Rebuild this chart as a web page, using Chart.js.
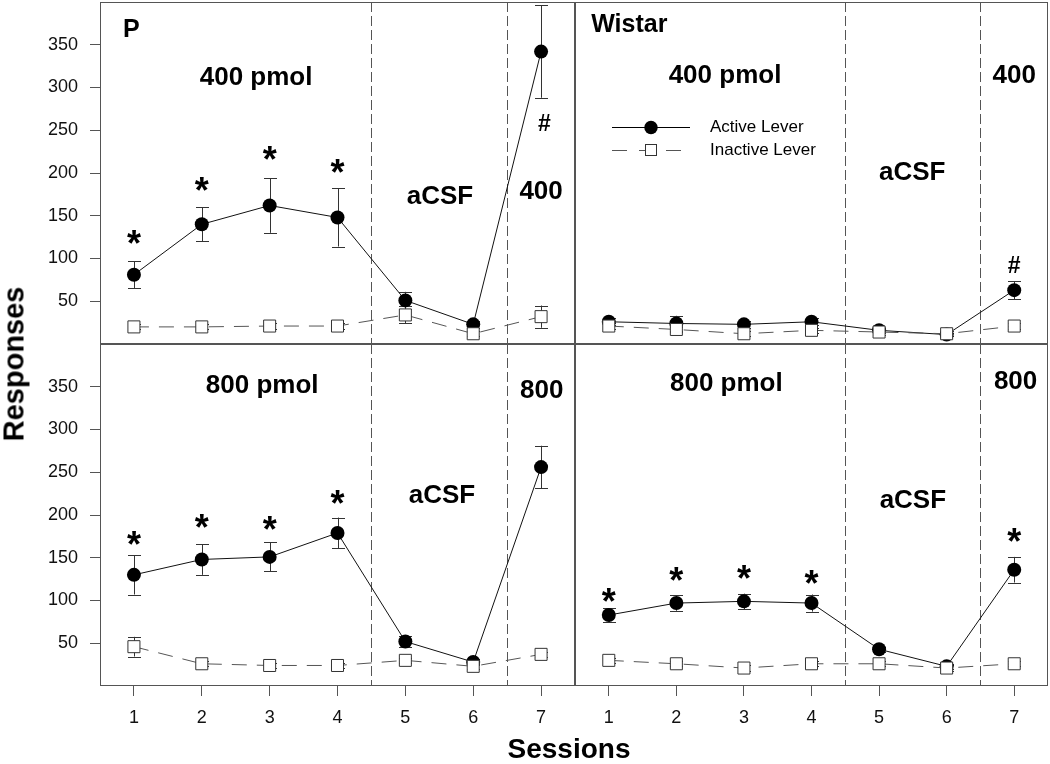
<!DOCTYPE html>
<html>
<head>
<meta charset="utf-8">
<script src="https://cdn.jsdelivr.net/npm/chart.js@4.4.1/dist/chart.umd.min.js"></script>
<style>
    body { margin: 0; background: #fff; }
    #contenitore { position: relative; width: 1050px; height: 764px; overflow: hidden;
        font-family: "Liberation Sans", Arial, sans-serif; }
    #contenitore canvas { position: absolute; }
    #c_tl { left: 0; top: 0; }
    #c_tr { left: 574px; top: 0; }
    #c_bl { left: 0; top: 343px; }
    #c_br { left: 574px; top: 343px; }
    .titolo { position: absolute; font-weight: bold; font-size: 29px; color: #000; white-space: nowrap; }
    #titolo_y { left: 14px; top: 364px; transform: translate(-50%, -50%) rotate(-90deg); }
    #titolo_x { left: 569px; top: 749px; transform: translate(-50%, -50%); font-size: 28px; }
</style>
</head>
<body>
<div id="contenitore">
    <canvas id="c_tl" width="576" height="345"></canvas>
    <canvas id="c_tr" width="476" height="345"></canvas>
    <canvas id="c_bl" width="576" height="421"></canvas>
    <canvas id="c_br" width="476" height="421"></canvas>
    <div class="titolo" id="titolo_y">Responses</div>
    <div class="titolo" id="titolo_x">Sessions</div>
</div>
<script>
// sessioni e tick
var sessioni = [1, 2, 3, 4, 5, 6, 7];
var tick_y = [50, 100, 150, 200, 250, 300, 350];
var separatori = [4.5, 6.5];

// ratti P, 400 pmol
var p400_attiva = [81, 140, 162, 148, 51, 23, 342];
var p400_attiva_err = [15.5, 20, 32, 34, 10, 4, 54];
var p400_inattiva = [20, 20, 21, 21, 34, 12, 32];
var p400_inattiva_err = [3, 3, 3, 3, 10, 3, 13];

// ratti Wistar, 400 pmol
var w400_attiva = [26, 24, 23, 26, 16, 11, 63];
var w400_attiva_err = [4, 9, 4, 4, 3, 2, 10.5];
var w400_inattiva = [21, 17, 12, 16, 14, 12, 21];
var w400_inattiva_err = [3, 3, 3, 3, 3, 3, 3];

// ratti P, 800 pmol
var p800_attiva = [130, 148, 151, 179, 52, 28, 256];
var p800_attiva_err = [23, 18, 17, 18, 6, 4, 25];
var p800_inattiva = [46, 26, 24, 24, 30, 23, 37];
var p800_inattiva_err = [11.5, 3, 3, 3, 3, 3, 3];

// ratti Wistar, 800 pmol
var w800_attiva = [83, 97, 99, 97, 43, 23, 136];
var w800_attiva_err = [8, 9, 9, 10, 3, 3, 15];
var w800_inattiva = [30, 26, 21, 26, 26, 21, 26];
var w800_inattiva_err = [3, 3, 3, 3, 3, 3, 3];

var etichette_legenda = ['Active Lever', 'Inactive Lever'];

var font_famiglia = '"Liberation Sans", Arial, sans-serif';
var colore_assi = '#555';

function punti(valori) {
    return sessioni.map(function (s, i) { return { x: s, y: valori[i] }; });
}

// testo grassetto centrato sul valore (centro visivo delle maiuscole)
function scrivi(ctx, testo, px, py, dim, allinea, quota) {
    ctx.font = 'bold ' + dim + 'px ' + font_famiglia;
    ctx.textAlign = allinea || 'center';
    ctx.textBaseline = 'alphabetic';
    ctx.fillText(testo, px, py + dim * (quota || 0.358));
}

var plugin_pannello = {
    id: 'pannello',
    beforeDatasetsDraw: function (chart) {
        var ctx = chart.ctx, area = chart.chartArea;
        var sx = chart.scales.x, sy = chart.scales.y;
        ctx.save();
        // linee tratteggiate tra le fasi
        ctx.strokeStyle = colore_assi;
        ctx.lineWidth = 1;
        ctx.setLineDash([10, 4]);
        separatori.forEach(function (v) {
            var x = Math.round(sx.getPixelForValue(v)) + 0.5;
            ctx.beginPath();
            ctx.moveTo(x, area.top);
            ctx.lineTo(x, area.bottom);
            ctx.stroke();
        });
        ctx.setLineDash([]);
        // barre di errore
        ctx.strokeStyle = '#333';
        chart.data.datasets.forEach(function (ds) {
            ds.data.forEach(function (p, i) {
                var e = ds.errori[i];
                var x = Math.round(sx.getPixelForValue(p.x)) + 0.5;
                var y1 = sy.getPixelForValue(p.y + e);
                var y2 = sy.getPixelForValue(p.y - e);
                ctx.beginPath();
                ctx.moveTo(x, y1); ctx.lineTo(x, y2);
                ctx.moveTo(x - 6.5, Math.round(y1) + 0.5); ctx.lineTo(x + 6.5, Math.round(y1) + 0.5);
                ctx.moveTo(x - 6.5, Math.round(y2) + 0.5); ctx.lineTo(x + 6.5, Math.round(y2) + 0.5);
                ctx.stroke();
            });
        });
        ctx.restore();
    },
    afterDraw: function (chart) {
        var ctx = chart.ctx, area = chart.chartArea;
        var sx = chart.scales.x, sy = chart.scales.y;
        var opz = chart.options.plugins.pannello;
        ctx.save();
        // cornice del pannello
        ctx.strokeStyle = colore_assi;
        ctx.lineWidth = 1;
        ctx.strokeRect(Math.round(area.left) + 0.5, Math.round(area.top) + 0.5,
            Math.round(area.right - area.left) - 1, Math.round(area.bottom - area.top) - 1);
        // scritte
        ctx.fillStyle = '#000';
        opz.scritte.forEach(function (s) {
            var px = sx.getPixelForValue(s.x), py = sy.getPixelForValue(s.y);
            if (s.tipo === 'asterisco') {
                scrivi(ctx, '*', px, py, 36, 'center', 0.555);
            } else if (s.tipo === 'cancelletto') {
                scrivi(ctx, '#', px, py, 23, 'center', 0.35);
            } else if (s.tipo === 'titolo') {
                scrivi(ctx, s.testo, px, py, 25, 'left');
            } else {
                scrivi(ctx, s.testo, px, py, 26, 'center');
            }
        });
        // legenda
        if (opz.legenda) {
            var l = area.left, t = area.top;
            ctx.strokeStyle = '#000';
            ctx.beginPath();
            ctx.moveTo(l + 37, t + 125.5); ctx.lineTo(l + 115, t + 125.5);
            ctx.stroke();
            ctx.fillStyle = '#000';
            ctx.beginPath();
            ctx.arc(l + 76, t + 125.5, 6.7, 0, Math.PI * 2);
            ctx.fill();
            ctx.strokeStyle = '#555';
            ctx.setLineDash([15, 12]);
            ctx.beginPath();
            ctx.moveTo(l + 37, t + 148.5); ctx.lineTo(l + 115, t + 148.5);
            ctx.stroke();
            ctx.setLineDash([]);
            ctx.fillStyle = '#fff';
            ctx.fillRect(l + 70.5, t + 143, 11, 11);
            ctx.strokeStyle = '#333';
            ctx.strokeRect(l + 70.5, t + 142.5, 11, 11);
            ctx.fillStyle = '#000';
            ctx.font = '17px ' + font_famiglia;
            ctx.textAlign = 'left';
            ctx.textBaseline = 'middle';
            ctx.fillText(etichette_legenda[0], l + 135, t + 125);
            ctx.fillText(etichette_legenda[1], l + 135, t + 148);
        }
        ctx.restore();
    }
};

function crea_pannello(id, attiva, attiva_err, inattiva, inattiva_err, impost) {
    var ctx = document.getElementById(id).getContext('2d');
    return new Chart(ctx, {
        type: 'line',
        data: {
            datasets: [{
                label: etichette_legenda[1],
                data: punti(inattiva),
                errori: inattiva_err,
                order: 0,
                borderColor: '#555',
                borderWidth: 1,
                borderDash: [15, 10],
                pointStyle: 'rect',
                pointRadius: 8.5,
                pointBackgroundColor: '#fff',
                pointBorderColor: '#333',
                pointBorderWidth: 1,
                tension: 0
            }, {
                label: etichette_legenda[0],
                data: punti(attiva),
                errori: attiva_err,
                order: 1,
                borderColor: '#111',
                borderWidth: 1,
                pointStyle: 'circle',
                pointRadius: 7,
                pointBackgroundColor: '#000',
                pointBorderColor: '#000',
                pointBorderWidth: 0,
                tension: 0
            }]
        },
        options: {
            responsive: false,
            animation: false,
            layout: { padding: impost.padding, autoPadding: false },
            plugins: {
                legend: { display: false },
                tooltip: { enabled: false },
                pannello: { scritte: impost.scritte, legenda: impost.legenda }
            },
            scales: {
                x: {
                    type: 'linear',
                    min: 0.5,
                    max: 7.5,
                    display: impost.mostra_x,
                    afterBuildTicks: function (asse) {
                        asse.ticks = sessioni.map(function (v) { return { value: v }; });
                    },
                    afterFit: function (asse) {
                        asse.height = impost.mostra_x ? 78 : 0;
                        asse.paddingLeft = 0;
                        asse.paddingRight = 0;
                    },
                    border: { display: false },
                    grid: { drawOnChartArea: false, drawTicks: true, tickLength: 10, color: colore_assi },
                    ticks: { color: '#111', padding: 11, maxRotation: 0, autoSkip: false,
                        font: { size: 18, family: font_famiglia } }
                },
                y: {
                    type: 'linear',
                    min: 0,
                    max: 400,
                    display: impost.mostra_y,
                    afterBuildTicks: function (asse) {
                        asse.ticks = tick_y.map(function (v) { return { value: v }; });
                    },
                    afterFit: function (asse) {
                        asse.width = impost.mostra_y ? 100 : 0;
                        asse.paddingTop = 0;
                        asse.paddingBottom = 0;
                    },
                    border: { display: false },
                    grid: { drawOnChartArea: false, drawTicks: true, tickLength: 10, color: colore_assi },
                    ticks: { color: '#111', padding: 12, autoSkip: false,
                        font: { size: 18, family: font_famiglia } }
                }
            }
        },
        plugins: [plugin_pannello]
    });
}

// P 400 pmol
crea_pannello('c_tl', p400_attiva, p400_attiva_err, p400_inattiva, p400_inattiva_err, {
    mostra_x: false, mostra_y: true,
    padding: { top: 2, bottom: 1, left: 0, right: 1 },
    scritte: [
        { tipo: 'titolo', testo: 'P', x: 0.84, y: 369 },
        { testo: '400 pmol', x: 2.8, y: 314 },
        { testo: 'aCSF', x: 5.51, y: 175 },
        { testo: '400', x: 7.0, y: 181 },
        { tipo: 'cancelletto', x: 7.05, y: 259 },
        { tipo: 'asterisco', x: 1, y: 126 },
        { tipo: 'asterisco', x: 2, y: 188 },
        { tipo: 'asterisco', x: 3, y: 225 },
        { tipo: 'asterisco', x: 4, y: 209 }
    ]
});

// Wistar 400 pmol
crea_pannello('c_tr', w400_attiva, w400_attiva_err, w400_inattiva, w400_inattiva_err, {
    mostra_x: false, mostra_y: false, legenda: true,
    padding: { top: 2, bottom: 1, left: 1, right: 2 },
    scritte: [
        { tipo: 'titolo', testo: 'Wistar', x: 0.74, y: 375 },
        { testo: '400 pmol', x: 2.72, y: 316 },
        { testo: 'aCSF', x: 5.49, y: 203 },
        { testo: '400', x: 7.0, y: 316 },
        { tipo: 'cancelletto', x: 7.0, y: 93 }
    ]
});

// P 800 pmol
crea_pannello('c_bl', p800_attiva, p800_attiva_err, p800_inattiva, p800_inattiva_err, {
    mostra_x: true, mostra_y: true,
    padding: { top: 1, bottom: 0, left: 0, right: 1 },
    scritte: [
        { testo: '800 pmol', x: 2.89, y: 353 },
        { testo: 'aCSF', x: 5.54, y: 225 },
        { testo: '800', x: 7.01, y: 348 },
        { tipo: 'asterisco', x: 1, y: 174 },
        { tipo: 'asterisco', x: 2, y: 194 },
        { tipo: 'asterisco', x: 3, y: 192 },
        { tipo: 'asterisco', x: 4, y: 222 }
    ]
});

// Wistar 800 pmol
crea_pannello('c_br', w800_attiva, w800_attiva_err, w800_inattiva, w800_inattiva_err, {
    mostra_x: true, mostra_y: false,
    padding: { top: 1, bottom: 0, left: 1, right: 2 },
    scritte: [
        { testo: '800 pmol', x: 2.74, y: 356 },
        { testo: 'aCSF', x: 5.5, y: 219 },
        { testo: '800', x: 7.02, y: 358 },
        { tipo: 'asterisco', x: 1, y: 108 },
        { tipo: 'asterisco', x: 2, y: 132 },
        { tipo: 'asterisco', x: 3, y: 135 },
        { tipo: 'asterisco', x: 4, y: 129 },
        { tipo: 'asterisco', x: 7, y: 178 }
    ]
});
</script>
</body>
</html>
